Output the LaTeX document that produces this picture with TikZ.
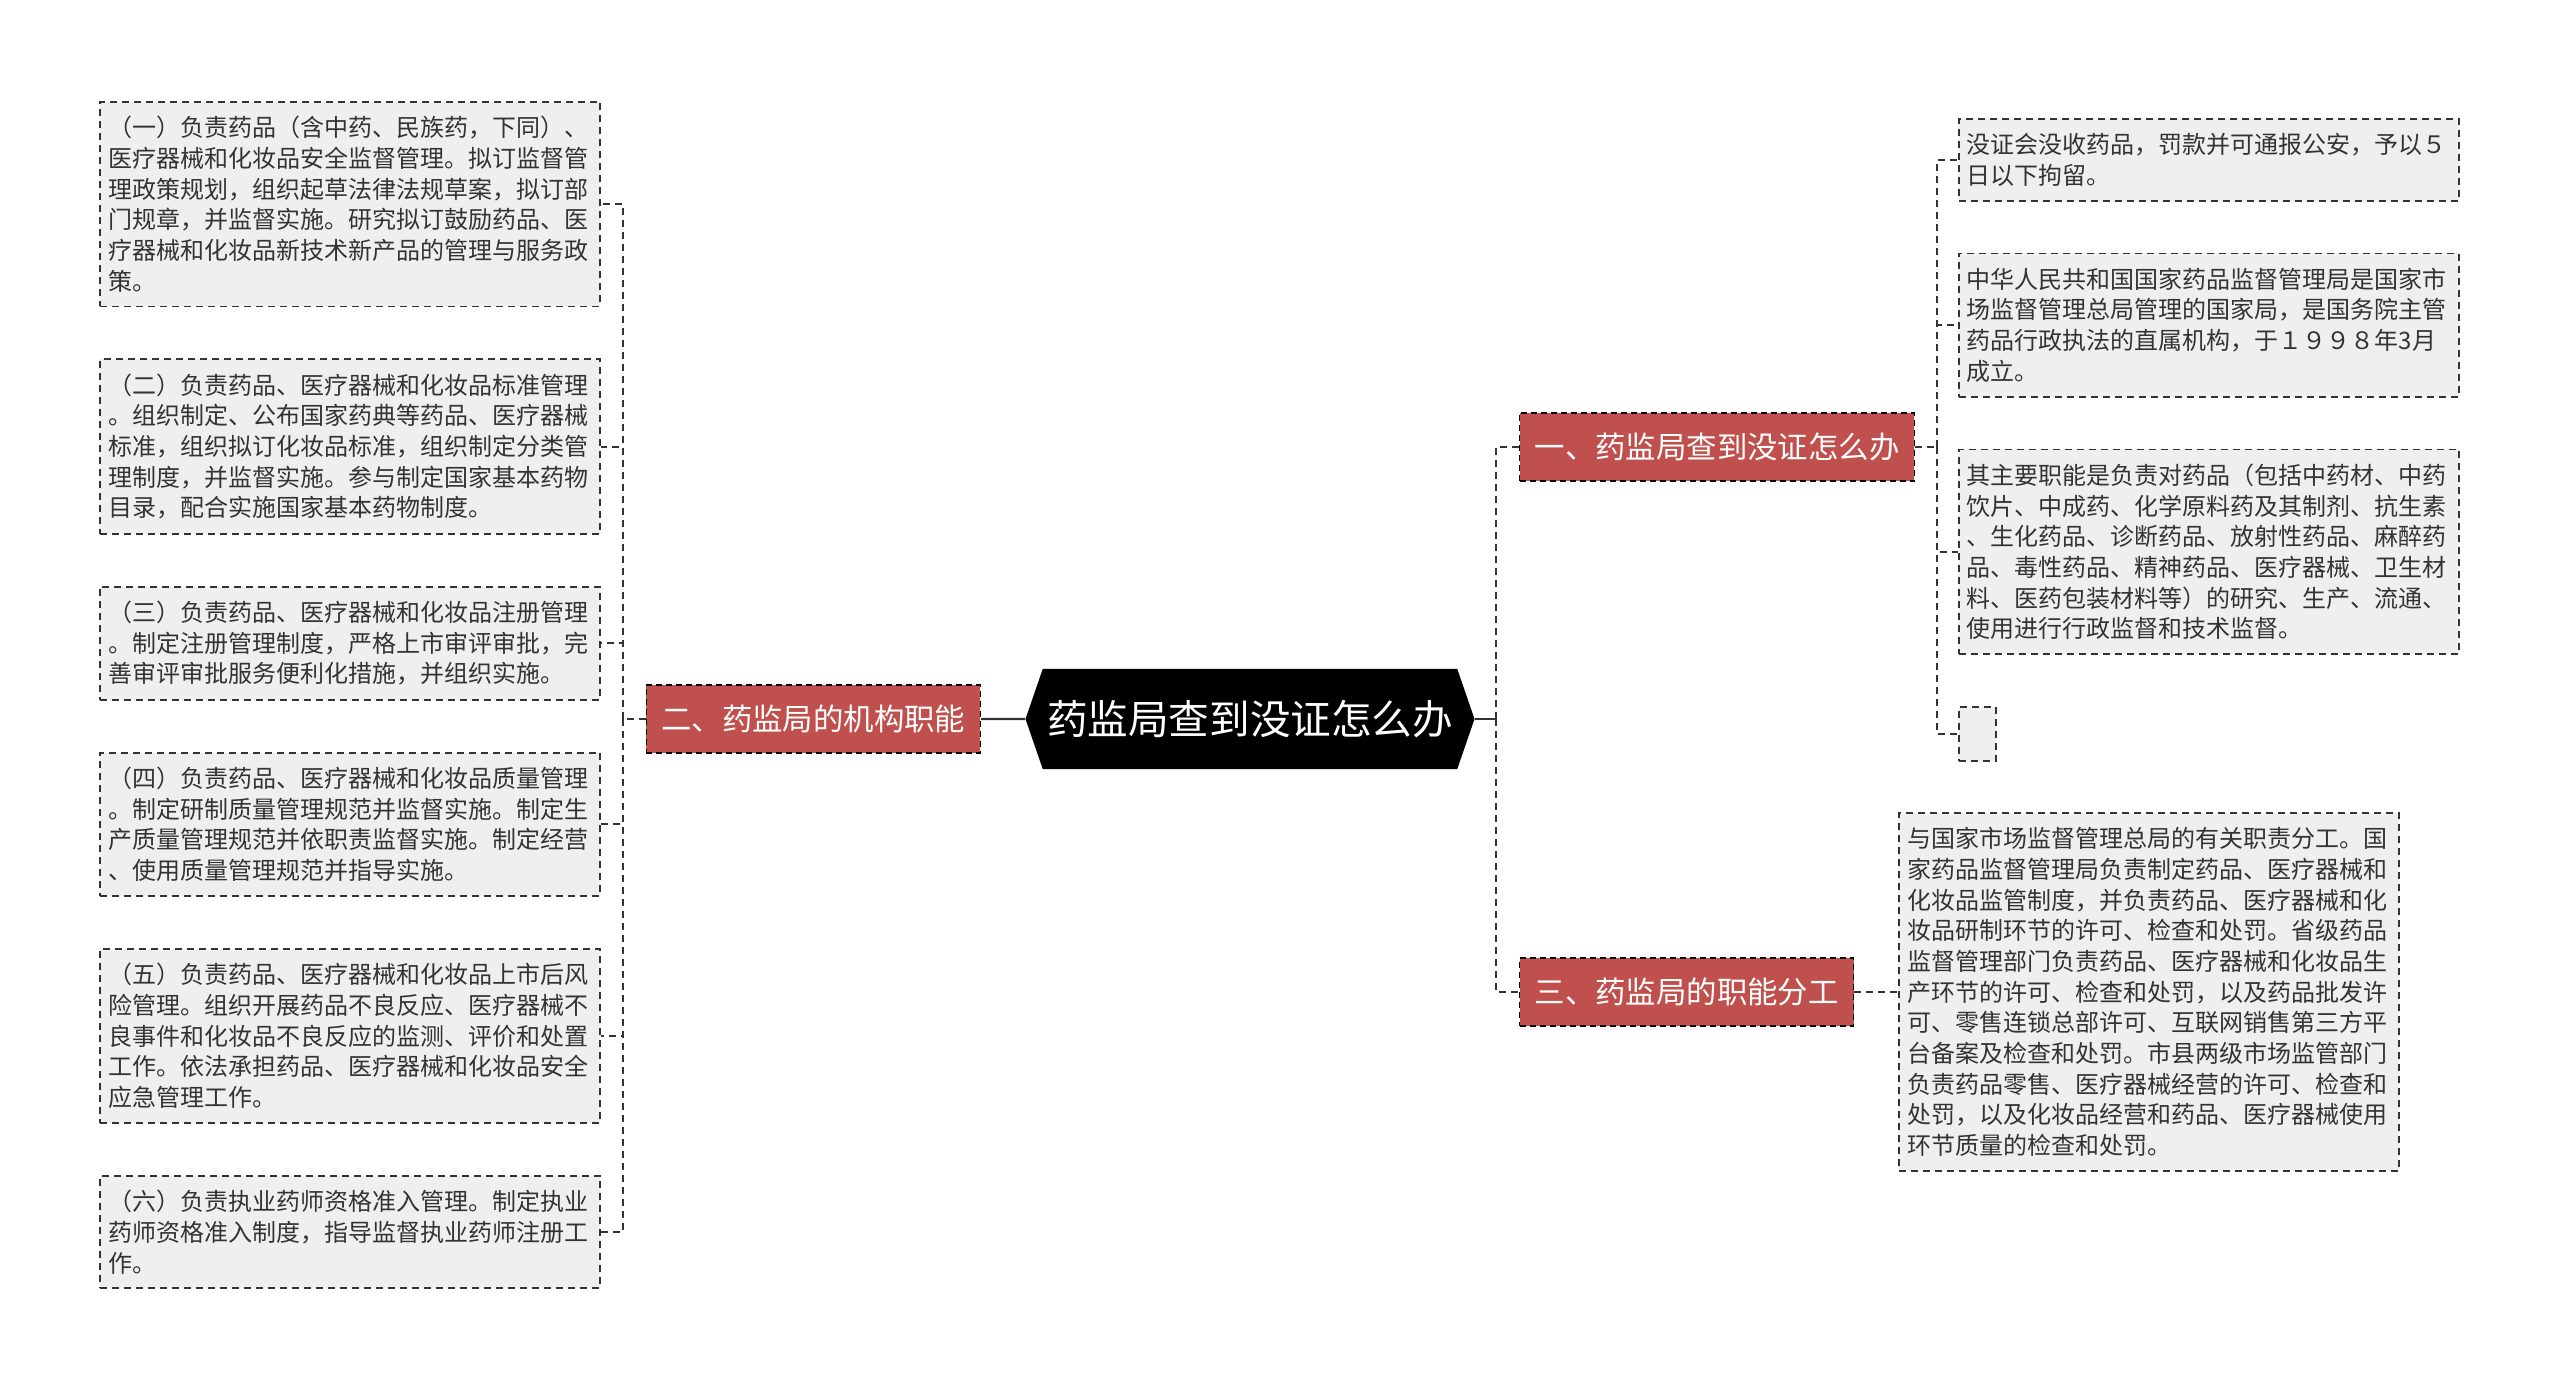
\documentclass[tikz,border=0pt]{standalone}
\usepackage{fontspec}
\setmainfont{Noto Sans CJK SC}
\usepackage{tikz}
\usetikzlibrary{calc,positioning,shapes.symbols}
\definecolor{DrugRed}{HTML}{C0504D}
\definecolor{DrugInk}{HTML}{333333}
\definecolor{DrugLeaf}{HTML}{EFEFEF}
\tikzset{
  trunk/.style={line width=1.2pt,draw=DrugInk},
  link/.style={line width=1pt,draw=DrugInk,dash pattern=on 3.5pt off 2.5pt},
  rootbox/.style={signal,signal to=west and east,signal pointer angle=142,
    fill=black,text=white,minimum width=224.5pt,minimum height=50pt,
    inner sep=0pt,font=\fontsize{20.3}{24}\selectfont},
  branchbox/.style={fill=DrugRed,draw=black,dash pattern=on 3pt off 2pt,
    line width=0.7pt,text=white,minimum height=34pt,inner xsep=7.5pt,
    font=\fontsize{15.2}{18}\selectfont},
  leafbox/.style={fill=DrugLeaf,draw=DrugInk,dash pattern=on 3.5pt off 2.5pt,
    line width=0.9pt,text=DrugInk,inner xsep=4pt,inner ysep=7.2pt,
    font=\fontsize{12}{15.33}\selectfont},
  textleaf/.style={leafbox,text width=242pt,align=left}
}
\begin{document}
\begin{tikzpicture}[node distance=25.5pt]
    \useasboundingbox (0,0) rectangle (1280pt,-697.5pt);

    \node[rootbox] (root) at (625pt,-359.5pt) {药监局查到没证怎么办};
    \node[branchbox,left=22pt of root] (b2) {二、药监局的机构职能};
    \node[branchbox,right=22pt of root,yshift=136pt] (b1) {一、药监局查到没证怎么办};
    \node[branchbox,right=22pt of root,yshift=-136.5pt] (b3) {三、药监局的职能分工};

    \node[textleaf,anchor=north east] (l1) at (300.5pt,-50.5pt) {（一）负责药品（含中药、民族药，下同）、\\医疗器械和化妆品安全监督管理。拟订监督管\\理政策规划，组织起草法律法规草案，拟订部\\门规章，并监督实施。研究拟订鼓励药品、医\\疗器械和化妆品新技术新产品的管理与服务政\\策。};
    \node[textleaf,below=of l1] (l2) {（二）负责药品、医疗器械和化妆品标准管理\\。组织制定、公布国家药典等药品、医疗器械\\标准，组织拟订化妆品标准，组织制定分类管\\理制度，并监督实施。参与制定国家基本药物\\目录，配合实施国家基本药物制度。};
    \node[textleaf,below=of l2] (l3) {（三）负责药品、医疗器械和化妆品注册管理\\。制定注册管理制度，严格上市审评审批，完\\善审评审批服务便利化措施，并组织实施。};
    \node[textleaf,below=of l3] (l4) {（四）负责药品、医疗器械和化妆品质量管理\\。制定研制质量管理规范并监督实施。制定生\\产质量管理规范并依职责监督实施。制定经营\\、使用质量管理规范并指导实施。};
    \node[textleaf,below=of l4] (l5) {（五）负责药品、医疗器械和化妆品上市后风\\险管理。组织开展药品不良反应、医疗器械不\\良事件和化妆品不良反应的监测、评价和处置\\工作。依法承担药品、医疗器械和化妆品安全\\应急管理工作。};
    \node[textleaf,below=of l5] (l6) {（六）负责执业药师资格准入管理。制定执业\\药师资格准入制度，指导监督执业药师注册工\\作。};

    \node[textleaf,anchor=north west] (r1) at (979pt,-59pt) {没证会没收药品，罚款并可通报公安，予以５\\日以下拘留。};
    \node[textleaf,below=of r1] (r2) {中华人民共和国国家药品监督管理局是国家市\\场监督管理总局管理的国家局，是国务院主管\\药品行政执法的直属机构，于１９９８年3月\\成立。};
    \node[textleaf,below=25.5pt of r2] (r3) {其主要职能是负责对药品（包括中药材、中药\\饮片、中成药、化学原料药及其制剂、抗生素\\、生化药品、诊断药品、放射性药品、麻醉药\\品、毒性药品、精神药品、医疗器械、卫生材\\料、医药包装材料等）的研究、生产、流通、\\使用进行行政监督和技术监督。};
    \node[leafbox,below=of r3.south west,anchor=north west,minimum width=18.5pt,minimum height=27pt] (r4) {};
    \node[textleaf,right=22pt of b3] (r5) {与国家市场监督管理总局的有关职责分工。国\\家药品监督管理局负责制定药品、医疗器械和\\化妆品监管制度，并负责药品、医疗器械和化\\妆品研制环节的许可、检查和处罚。省级药品\\监督管理部门负责药品、医疗器械和化妆品生\\产环节的许可、检查和处罚，以及药品批发许\\可、零售连锁总部许可、互联网销售第三方平\\台备案及检查和处罚。市县两级市场监管部门\\负责药品零售、医疗器械经营的许可、检查和\\处罚，以及化妆品经营和药品、医疗器械使用\\环节质量的检查和处罚。};

    \coordinate (lsp) at ($(b2.west)+(-11.5pt,0)$);
    \coordinate (rsp) at ($(root.east)+(10.75pt,0)$);
    \coordinate (r1sp) at ($(b1.east)+(11pt,0)$);

    \draw[trunk] (root) -- (b2);
    \draw[link] (b2.west) -- (lsp);
    \foreach \n in {l1,l2,l3,l4,l5,l6}
      \draw[link] (lsp) |- (\n.east);

    \draw[trunk] (root.east) -- (rsp);
    \draw[link] (rsp) |- (b1.west);
    \draw[link] (rsp) |- (b3.west);

    \draw[link] (b1.east) -- (r1sp);
    \foreach \n in {r1,r2,r3,r4}
      \draw[link] (r1sp) |- (\n.west);
    \draw[link] (b3) -- (r5);
  \end{tikzpicture}
\end{document}
